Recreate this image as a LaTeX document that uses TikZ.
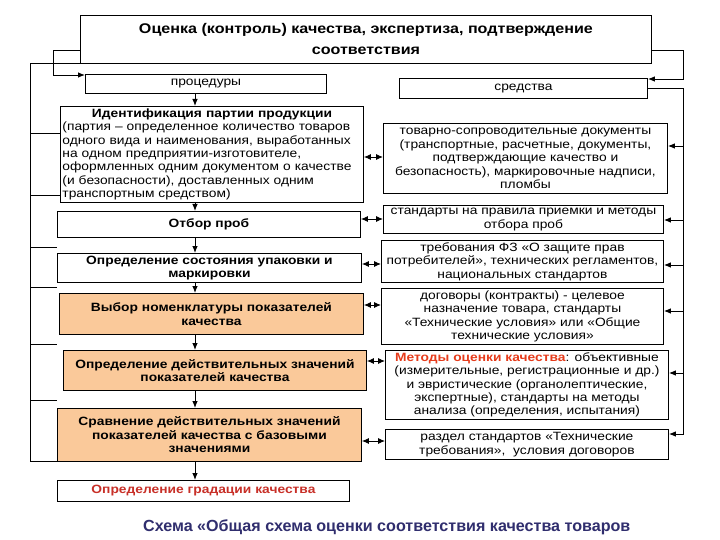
\documentclass[tikz,border=0pt]{standalone}
\usepackage{fontspec}
\setmainfont{Liberation Sans}[FakeStretch=1.15]
\newfontfamily\capfont{Liberation Sans}
\usetikzlibrary{arrows.meta}
\definecolor{peach}{RGB}{250,201,154}
\definecolor{gradred}{RGB}{200,48,40}
\definecolor{metred}{RGB}{230,60,28}
\definecolor{capblue}{RGB}{48,46,110}
\begin{document}
\begin{tikzpicture}[x=1pt,y=-1pt,
  box/.style={draw, line width=0.9pt, anchor=north west, inner xsep=2pt, inner ysep=0pt, align=center, font=\fontsize{12}{13.4}\selectfont},
  bbox/.style={box, font=\bfseries\fontsize{12}{13.4}\selectfont},
  fbox/.style={bbox, fill=peach},
  ln/.style={line width=0.9pt},
  arr/.style={ln, -{Latex[length=7pt,width=5.5pt]}},
  darr/.style={ln, {Latex[length=7pt,width=6pt]}-{Latex[length=7pt,width=6pt]}}]
\useasboundingbox[fill=white] (0,0) rectangle (720,540);
\coordinate (lb) at (30,0);
\coordinate (rb) at (683,0);
\coordinate (vx) at (195,0);

\node[box, minimum width=571pt, minimum height=48pt, font=\bfseries\fontsize{14}{21}\selectfont] (title) at (80,15) {Оценка (контроль) качества, экспертиза, подтверждение\\соответствия};
\node[box, minimum width=241pt, minimum height=19pt] (proc) at (85,74) {процедуры};
\node[box, minimum width=248pt, minimum height=20pt] (sred) at (399,78) {средства};

\node[box, minimum width=303pt, minimum height=96pt, text width=299pt, align=left] (ident) at (60,106) {\makebox[299pt][c]{\textbf{Идентификация партии продукции}}\\(партия – определенное количество товаров\\одного вида и наименования, выработанных\\на одном предприятии-изготовителе,\\оформленных одним документом о качестве\\(и безопасности), доставленных одним\\транспортным средством)};
\node[bbox, minimum width=303pt, minimum height=26pt] (otbor) at (57,211) {Отбор проб};
\node[bbox, minimum width=304pt, minimum height=29pt] (sost) at (57,253) {Определение состояния упаковки и\\маркировки};
\node[fbox, minimum width=304pt, minimum height=41pt] (vybor) at (59,293) {Выбор номенклатуры показателей\\качества};
\node[fbox, minimum width=303pt, minimum height=40pt] (deistv) at (63,350) {Определение действительных значений\\показателей качества};
\node[fbox, minimum width=304pt, minimum height=53pt] (sravn) at (57,408) {Сравнение действительных значений\\показателей качества с базовыми\\значениями};
\node[bbox, minimum width=292pt, minimum height=21pt, text=gradred] (grad) at (57,480) {Определение градации качества};

\node[box, minimum width=284pt, minimum height=70pt] (tov) at (383,123) {товарно-сопроводительные документы\\(транспортные, расчетные, документы,\\подтверждающие качество и\\безопасность), маркировочные надписи,\\пломбы};
\node[box, minimum width=280pt, minimum height=28pt] (stand) at (383,205) {стандарты на правила приемки и методы\\отбора проб};
\node[box, minimum width=282pt, minimum height=42pt] (treb) at (381,240) {требования ФЗ «О защите прав\\потребителей», технических регламентов,\\национальных стандартов};
\node[box, minimum width=282pt, minimum height=56pt] (dogov) at (381,288) {договоры (контракты) - целевое\\назначение товара, стандарты\\«Технические условия» или «Общие\\технические условия»};
\node[box, minimum width=283pt, minimum height=69pt] (metod) at (385,350) {\textcolor{metred}{\textbf{Методы оценки качества}}: объективные\\(измерительные, регистрационные и др.)\\и эвристические (органолептические,\\экспертные), стандарты на методы\\анализа (определения, испытания)};
\node[box, minimum width=283pt, minimum height=30pt] (razdel) at (385,429) {раздел стандартов «Технические\\требования»,~ условия договоров};

\node[anchor=west, inner sep=0pt, text=capblue, font=\capfont\bfseries\fontsize{16.1}{19}\selectfont] (cap) at (143,527) {Схема «Общая схема оценки соответствия качества товаров};

% left bus
\draw[ln] (title.south west) -| (lb |- sravn.south) -- (sravn.south west);
\draw[arr] (title.west |- 0,50) -| (53,75) -- (proc.west |- 0,75);
\foreach \yy in {133,195} \draw[ln] (lb |- 0,\yy) -- (ident.west |- 0,\yy);
\foreach \yy in {247,287,344,400} \draw[ln] (lb |- 0,\yy) -- (57,\yy);

% right bus
\draw[arr] (title.east |- 0,50) -| (rb |- 0,79) -- (sred.east |- 0,79);
\draw[arr] (sred.east) -| (rb |- 0,434) -- (razdel.east |- 0,434);
\draw[arr] (rb |- 0,146) -- (tov.east |- 0,146);
\draw[arr] (rb |- 0,220) -- (stand.east |- 0,220);
\draw[arr] (rb |- 0,265) -- (treb.east |- 0,265);
\draw[arr] (rb |- 0,311) -- (dogov.east |- 0,311);
\draw[arr] (rb |- 0,373) -- (metod.east |- 0,373);

% vertical chain
\draw[arr] (proc.south -| vx) -- (ident.north -| vx);
\draw[arr] (ident.south -| vx) -- (otbor.north -| vx);
\draw[arr] (otbor.south -| vx) -- (sost.north -| vx);
\draw[arr] (sost.south -| vx) -- (vybor.north -| vx);
\draw[arr] (vybor.south -| vx) -- (deistv.north -| vx);
\draw[arr] (deistv.south -| vx) -- (sravn.north -| vx);
\draw[arr] (sravn.south -| vx) -- (grad.north -| vx);

% double arrows
\draw[darr] (ident.east |- 0,157) -- (tov.west |- 0,157);
\draw[darr] (otbor.east |- 0,219) -- (stand.west |- 0,219);
\draw[darr] (sost.east |- 0,264) -- (treb.west |- 0,264);
\draw[darr] (vybor.east |- 0,305) -- (dogov.west |- 0,305);
\draw[darr] (deistv.east |- 0,361) -- (metod.west |- 0,361);
\draw[darr] (sravn.east |- 0,441) -- (razdel.west |- 0,441);
\end{tikzpicture}
\end{document}
